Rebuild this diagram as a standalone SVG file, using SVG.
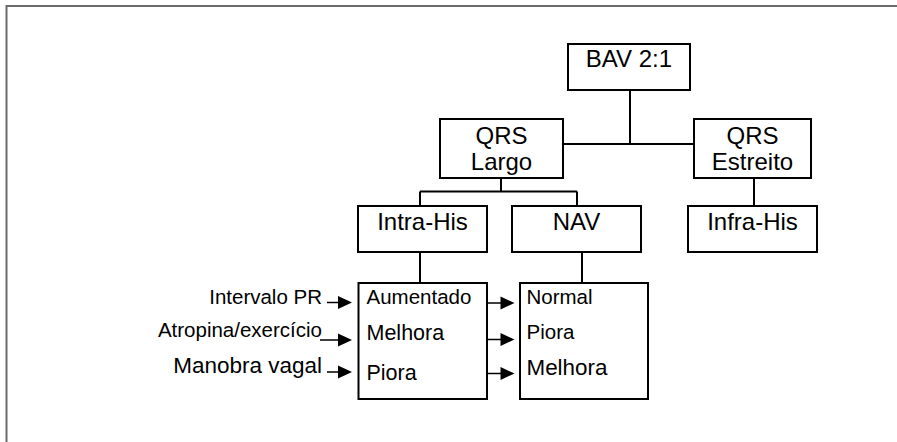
<svg xmlns="http://www.w3.org/2000/svg" width="897" height="442" viewBox="0 0 897 442">
<style>
.box{fill:#fff;stroke:#000;stroke-width:2}
.t{font-family:"Liberation Sans",Arial,Helvetica,sans-serif;fill:#000}
.title{font-size:24px;text-anchor:middle}
.item{font-size:20.5px}
.lbl{font-size:20.5px;text-anchor:end}
.conn{stroke:#000;stroke-width:2;fill:none}
.arr{stroke:#000;stroke-width:1.6;fill:none}
</style>
<defs>
<path id="head" d="M-14,-6.5 L0,0 L-14,6.5 Z" fill="#000"/>
</defs>
<rect width="897" height="442" fill="#fff"/>
<path d="M6.5,442 V6 H897" stroke="#6b6b6b" stroke-width="2" fill="none"/>
<g id="connectors">
<path class="conn" d="M630,90 V144 M563,144 H694"/>
<path class="conn" d="M501,178 V191.5 M420,191.5 H577 M420,191.5 V206 M577,191.5 V206"/>
<path class="conn" d="M754,178 V206"/>
<path class="conn" d="M420,252 V283"/>
<path class="conn" d="M582,252 V283"/>
<path class="arr" d="M327,302.5 H340 M320,340 H340 M327,372 H340 M488,303 H503 M488,339.5 H503 M488,373.5 H503"/>
<use href="#head" x="352" y="302.5"/>
<use href="#head" x="352" y="340"/>
<use href="#head" x="352" y="372"/>
<use href="#head" x="514.5" y="303"/>
<use href="#head" x="514.5" y="339.5"/>
<use href="#head" x="514.5" y="373.5"/>
</g>
<g id="bav">
<rect class="box" x="568" y="44" width="122" height="46"/>
<text class="t title" x="629" y="67">BAV 2:1</text>
</g>
<g id="qrs-largo">
<rect class="box" x="440" y="119" width="123" height="59"/>
<text class="t title" x="501.5" y="144">QRS</text>
<text class="t title" x="501.5" y="170">Largo</text>
</g>
<g id="qrs-estreito">
<rect class="box" x="694" y="119" width="117" height="59"/>
<text class="t title" x="752.5" y="144">QRS</text>
<text class="t title" x="752.5" y="170">Estreito</text>
</g>
<g id="intra-his">
<rect class="box" x="358" y="206" width="129" height="46"/>
<text class="t title" x="422.5" y="230">Intra-His</text>
</g>
<g id="nav">
<rect class="box" x="512" y="206" width="129" height="46"/>
<text class="t title" x="576.5" y="230">NAV</text>
</g>
<g id="infra-his">
<rect class="box" x="688" y="206" width="129" height="46"/>
<text class="t title" x="752.5" y="230">Infra-His</text>
</g>
<g id="intra-his-detail">
<rect class="box" x="358.5" y="283" width="128.5" height="116"/>
<text class="t item" x="366.5" y="303.5">Aumentado</text>
<text class="t item" x="366.5" y="340" style="font-size:21.5px">Melhora</text>
<text class="t item" x="366.5" y="380" style="font-size:21.5px">Piora</text>
</g>
<g id="nav-detail">
<rect class="box" x="520" y="283" width="128" height="116"/>
<text class="t item" x="526.5" y="304">Normal</text>
<text class="t item" x="526.5" y="338.5">Piora</text>
<text class="t item" x="526.5" y="375" style="font-size:22.4px">Melhora</text>
</g>
<g id="labels">
<text class="t lbl" x="322" y="303.5">Intervalo PR</text>
<text class="t lbl" x="322" y="337">Atropina/exercício</text>
<text class="t lbl" x="322" y="372.5" style="font-size:22.5px">Manobra vagal</text>
</g>
</svg>
